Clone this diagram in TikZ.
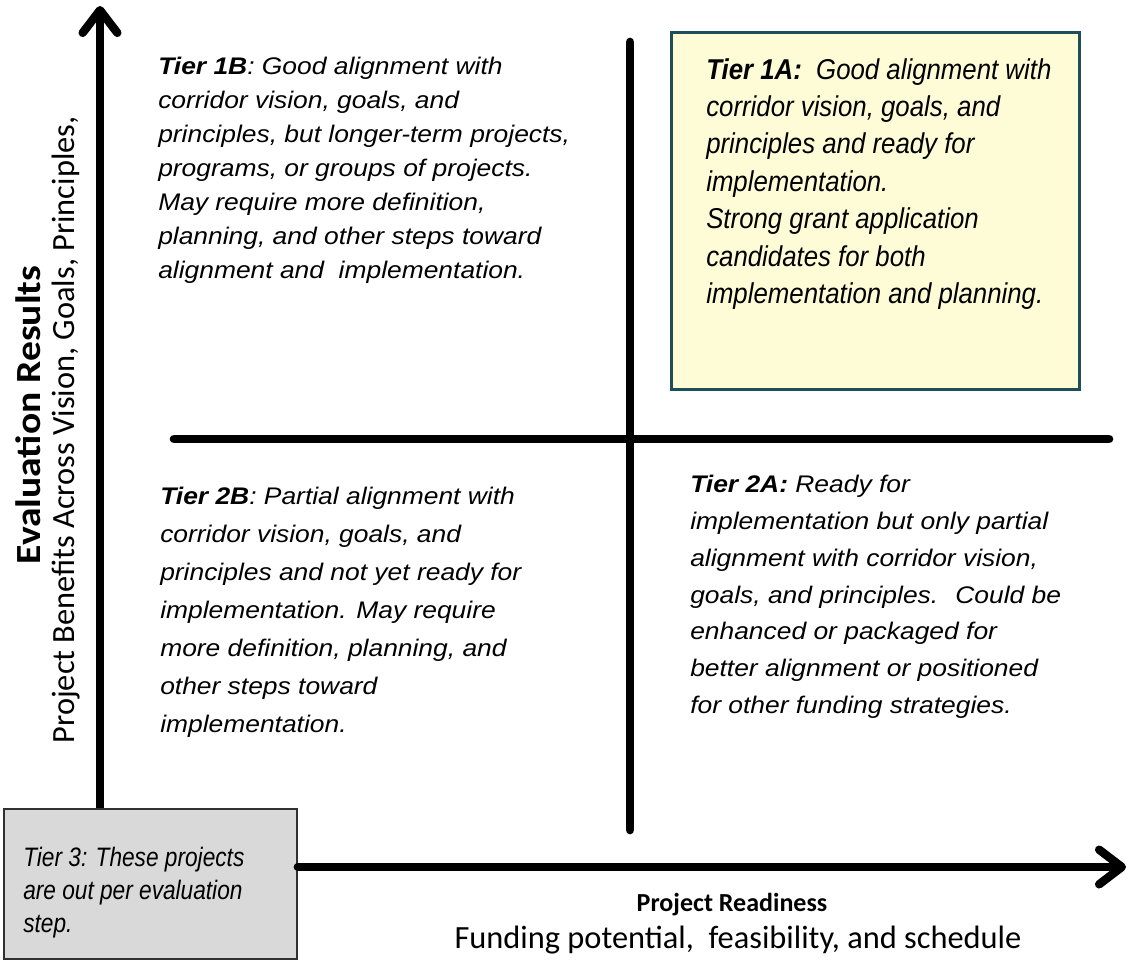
\documentclass[tikz,border=0pt]{standalone}
\usepackage{fontspec}
\setmainfont{Liberation Sans}
\newfontfamily\tierfont{Liberation Sans}[FakeStretch=1.1]
\newfontfamily\tieronefont{Liberation Sans}[FakeStretch=0.9]
\newfontfamily\tierthreefont{Liberation Sans}[FakeStretch=0.85]
\newfontfamily\axisfont{Carlito}
\newfontfamily\axiswidefont{Carlito}[FakeStretch=1.12]
\usetikzlibrary{arrows.meta}
\definecolor{boxyellow}{HTML}{FEFCD6}
\definecolor{boxteal}{HTML}{1D4E5A}
\definecolor{boxgray}{HTML}{D9D9D9}
\definecolor{boxgrayline}{HTML}{303030}
\begin{document}
\begin{tikzpicture}[x=0.75pt,y=-0.75pt,
  axisline/.style={line width=6.3pt, line cap=round, line join=round,
    -{Straight Barb[round,length=17pt,width=26pt]}},
  divider/.style={line width=6.5pt, line cap=round},
  tiertext/.style={anchor=north west, inner sep=0pt, align=left},
  axistitle/.style={inner sep=0pt, font=\axisfont\bfseries\fontsize{19.5}{23}\selectfont},
  axissub/.style={inner sep=0pt, font=\axisfont\fontsize{24.3}{28}\selectfont}]
\useasboundingbox (0,0) rectangle (1130,969);

% Tier 1A box
\node[draw=boxteal, fill=boxyellow, line width=2.2pt, minimum width=306pt, minimum height=268pt, inner sep=0pt, anchor=north west] (onea) at (670,31) {};

% dividers
\coordinate (vtop) at (630,42);
\coordinate (vbot) at (630,830);
\coordinate (hleft) at (174,439);
\coordinate (hright) at (1109,439);
\draw[divider] (vtop) -- (vbot);
\draw[divider] (hleft) -- (hright);

% axes
\coordinate (yorigin) at (100,820);
\coordinate (ytip) at (100,6);
\coordinate (xtip) at (1126,867);
\draw[axisline] (yorigin) -- (ytip);

% Tier 3 box
\node[draw=boxgrayline, fill=boxgray, line width=1.6pt, minimum width=219.5pt, minimum height=112.5pt, inner sep=0pt, anchor=north west] (three) at (3,808) {};
\draw[axisline] (three.east |- xtip) -- (xtip);

% texts
\node[tiertext, font=\tierfont\itshape\fontsize{18}{25.5}\selectfont] (oneb) at (158,57)
{\textbf{Tier 1B}: Good alignment with\\
corridor vision, goals, and\\
principles, but longer-term projects,\\
programs, or groups of projects.\\
May require more definition,\\
planning, and other steps toward\\
alignment and \ implementation.};

\node[tiertext, font=\tieronefont\itshape\fontsize{21.5}{28.1}\selectfont] (oneatext) at (706,58)
{\textbf{Tier 1A:}\ \ Good alignment with\\
corridor vision, goals, and\\
principles and ready for\\
implementation.\\
Strong grant application\\
candidates for both\\
implementation and planning.};

\node[tiertext, font=\tierfont\itshape\fontsize{18}{28.5}\selectfont] (twob) at (160,487)
{\textbf{Tier 2B}: Partial alignment with\\
corridor vision, goals, and\\
principles and not yet ready for\\
implementation. May require\\
more definition, planning, and\\
other steps toward\\
implementation.};

\node[tiertext, font=\tierfont\itshape\fontsize{18}{27.6}\selectfont] (twoa) at (690,475)
{\textbf{Tier 2A:} Ready for\\
implementation but only partial\\
alignment with corridor vision,\\
goals, and principles. \ Could be\\
enhanced or packaged for\\
better alignment or positioned\\
for other funding strategies.};

\node[tiertext, font=\tierthreefont\itshape\fontsize{20}{24.75}\selectfont] (threetext) at (23,847)
{Tier 3: These projects\\
are out per evaluation\\
step.};

% axis labels
\node[inner sep=0pt, font=\axiswidefont\bfseries\fontsize{26.5}{30}\selectfont, rotate=90] (ytitle) at (28,415) {Evaluation Results};
\node[axissub, rotate=90] (ysub) at (66,430) {Project Benefits Across Vision, Goals, Principles,};
\node[axistitle] (xtitle) at (732,905) {Project Readiness};
\node[axissub] (xsub) at (738,940) {Funding potential, \ feasibility, and schedule};
\end{tikzpicture}
\end{document}
